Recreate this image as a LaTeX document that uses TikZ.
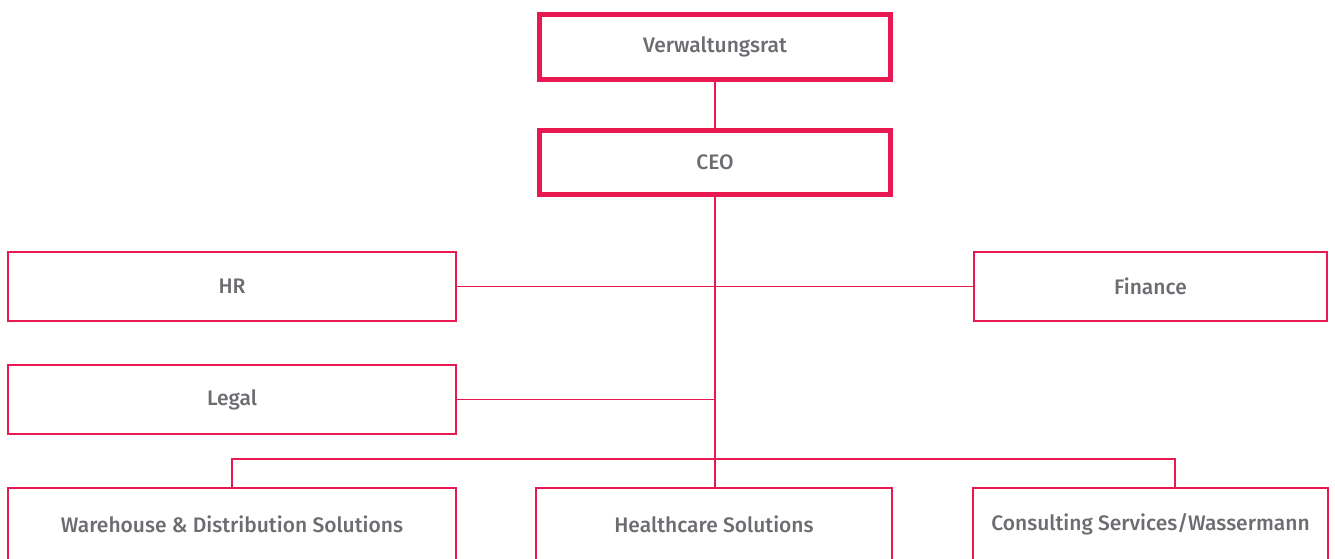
\documentclass[tikz,border=0pt]{standalone}
\usepackage{fontspec}
\setmainfont{Fira Sans}[UprightFont={* Medium}]
\usepackage{tikz}
\usetikzlibrary{positioning, calc}

\definecolor{orgpink}{RGB}{232,24,80}
\definecolor{orggray}{RGB}{108,109,113}

\begin{document}
\begin{tikzpicture}[
    font=\fontsize{10.5}{12}\selectfont,
    unit/.style={rectangle, draw=orgpink, line width=1pt, outer sep=0pt, inner sep=0pt,
        text=orggray, minimum width=224pt, minimum height=34.5pt},
    board/.style={unit, line width=2.5pt, minimum width=175.5pt, minimum height=32.5pt},
    link/.style={draw=orgpink, line width=0.7pt},
]
    \useasboundingbox (0,0) rectangle (667.5pt,-279pt);

    \node[board] (vr) at (357.5pt,-23.5pt) {Verwaltungsrat};
    \node[board, below=25.5pt of vr, minimum height=32pt] (ceo) {CEO};
    \node[unit] (hr) at (116pt,-143.25pt) {HR};
    \node[unit, minimum width=176.5pt] (fin) at (575.25pt,-143.25pt) {Finance};
    \node[unit, below=22pt of hr] (legal) {Legal};
    \node[unit, below=27pt of legal, minimum height=36pt] (wds) {Warehouse \& Distribution Solutions};
    \node[unit, right=40pt of wds, minimum width=178pt, minimum height=36pt] (hc) {Healthcare Solutions};
    \node[unit, right=40.5pt of hc, minimum width=177.5pt, minimum height=36pt] (cs) {Consulting Services/Wassermann};

    \coordinate (bar) at (0,-229.5pt);
    \coordinate (csdrop) at ($(cs.north)+(12.25pt,0)$);

    \draw[link] (vr) -- (ceo);
    \draw[link] (ceo.south) -- (ceo.south |- hc.north);
    \draw[link] (hr) -- (fin);
    \draw[link] (legal.east) -- (legal.east -| ceo.south);
    \draw[link] (wds.north) -- (wds.north |- bar) -- (csdrop |- bar) -- (csdrop);
\end{tikzpicture}
\end{document}
